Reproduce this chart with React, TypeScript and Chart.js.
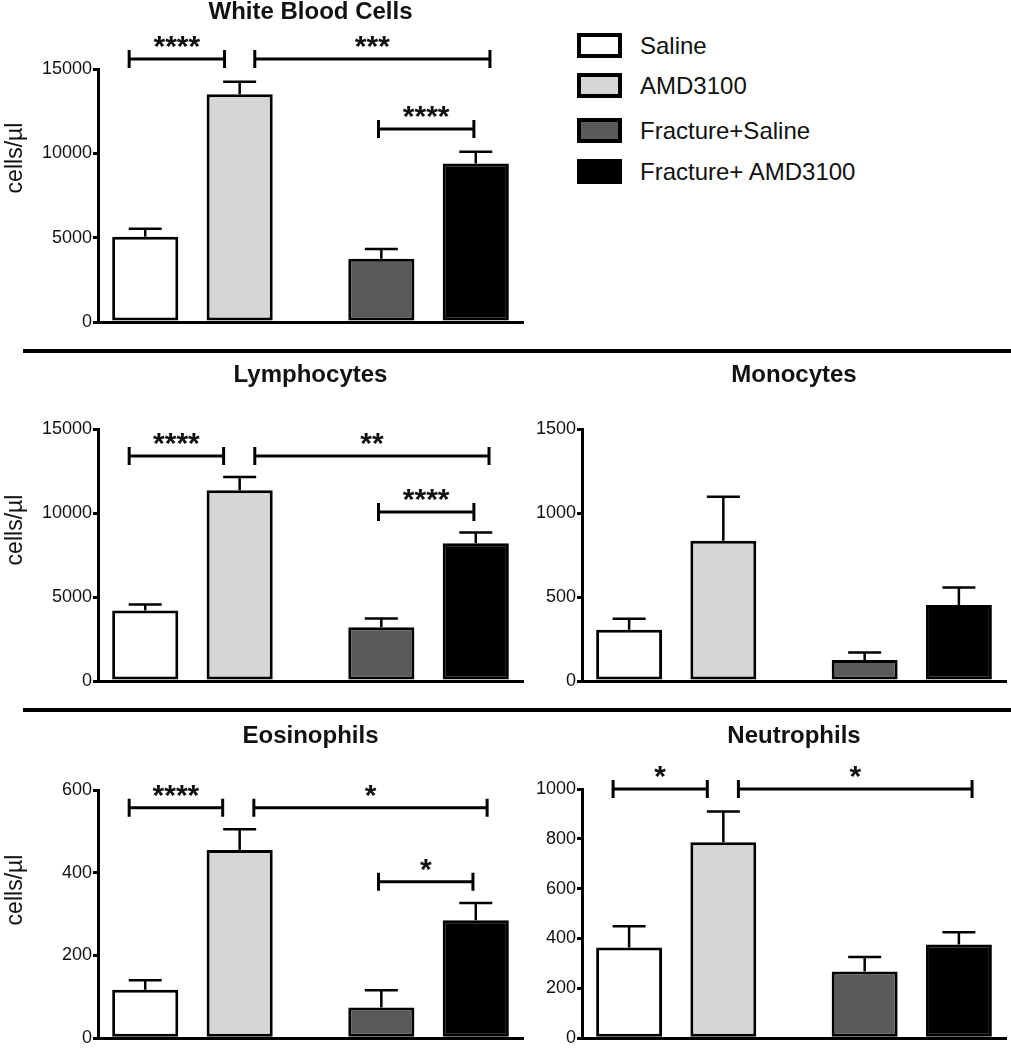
import React, { useEffect, useRef } from 'react';
import { Chart, registerables } from 'chart.js';

Chart.register(...registerables);

// ---------- data ----------
const groups = ['Saline', 'AMD3100', 'Fracture+Saline', 'Fracture+ AMD3100'];
const groupPositions = [0, 1, 2.5, 3.5];
const groupColors = ['#ffffff', '#d6d6d6', '#5a5a5a', '#000000'];

const wbcMeans = [5050, 13500, 3750, 9400];
const wbcErrors = [480, 740, 580, 700];
const wbcTicks = [0, 5000, 10000, 15000];
const wbcBrackets = [
  { from: -0.17, to: 0.84, y: 15590, label: '****' },
  { from: 1.16, to: 3.65, y: 15590, label: '***' },
  { from: 2.47, to: 3.48, y: 11440, label: '****' },
];

const lymMeans = [4200, 11350, 3200, 8200];
const lymErrors = [350, 800, 520, 640];
const lymTicks = [0, 5000, 10000, 15000];
const lymBrackets = [
  { from: -0.17, to: 0.83, y: 13390, label: '****' },
  { from: 1.16, to: 3.64, y: 13390, label: '**' },
  { from: 2.47, to: 3.48, y: 10060, label: '****' },
];

const monMeans = [305, 835, 125, 452];
const monErrors = [66, 262, 45, 104];
const monTicks = [0, 500, 1000, 1500];
const monBrackets: { from: number; to: number; y: number; label: string }[] = [];

const eosMeans = [117, 455, 74, 285];
const eosErrors = [23, 50, 42, 42];
const eosTicks = [0, 200, 400, 600];
const eosBrackets = [
  { from: -0.17, to: 0.82, y: 557, label: '****' },
  { from: 1.15, to: 3.62, y: 557, label: '*' },
  { from: 2.47, to: 3.47, y: 378, label: '*' },
];

const neuMeans = [364, 786, 268, 376];
const neuErrors = [85, 124, 58, 49];
const neuTicks = [0, 200, 400, 600, 800, 1000];
const neuBrackets = [
  { from: -0.17, to: 0.83, y: 1000, label: '*' },
  { from: 1.16, to: 3.64, y: 1000, label: '*' },
];

// ---------- layout ----------
const FONT = "'Liberation Sans', Arial, Helvetica, sans-serif";
const X_MIN = -0.5;
const X_MAX = 4;

type Bracket = { from: number; to: number; y: number; label: string };
type PanelCfg = {
  key: string;
  title: string;
  means: number[];
  errors: number[];
  ticks: number[];
  brackets: Bracket[];
  yLabel: string | null;
  left: number;
  top: number;
  width: number;
  height: number;
  pad: { top: number; bottom: number; right: number };
  axisWidth: number;
  titleOffset: number;
  yLabelOffset: number;
};

const panels: PanelCfg[] = [
  {
    key: 'wbc', title: 'White Blood Cells', means: wbcMeans, errors: wbcErrors, ticks: wbcTicks,
    brackets: wbcBrackets, yLabel: 'cells/\u00b5l',
    left: 0, top: 0, width: 540, height: 345, pad: { top: 69, bottom: 23, right: 17 }, axisWidth: 98,
    titleOffset: -50, yLabelOffset: 89,
  },
  {
    key: 'lym', title: 'Lymphocytes', means: lymMeans, errors: lymErrors, ticks: lymTicks,
    brackets: lymBrackets, yLabel: 'cells/\u00b5l',
    left: 0, top: 356, width: 540, height: 345, pad: { top: 73, bottom: 20, right: 17 }, axisWidth: 98,
    titleOffset: -47, yLabelOffset: 101,
  },
  {
    key: 'mon', title: 'Monocytes', means: monMeans, errors: monErrors, ticks: monTicks,
    brackets: monBrackets, yLabel: null,
    left: 520, top: 356, width: 491, height: 345, pad: { top: 73, bottom: 20, right: 5 }, axisWidth: 62,
    titleOffset: -47, yLabelOffset: 0,
  },
  {
    key: 'eos', title: 'Eosinophils', means: eosMeans, errors: eosErrors, ticks: eosTicks,
    brackets: eosBrackets, yLabel: 'cells/\u00b5l',
    left: 0, top: 716, width: 540, height: 334, pad: { top: 74, bottom: 9, right: 17 }, axisWidth: 98,
    titleOffset: -47, yLabelOffset: 100,
  },
  {
    key: 'neu', title: 'Neutrophils', means: neuMeans, errors: neuErrors, ticks: neuTicks,
    brackets: neuBrackets, yLabel: null,
    left: 520, top: 716, width: 491, height: 334, pad: { top: 73, bottom: 10, right: 5 }, axisWidth: 62,
    titleOffset: -46, yLabelOffset: 0,
  },
];

const legendTops = [33, 73, 118, 159];
const separators = [349, 708];

function makeAnnotations(cfg: PanelCfg) {
  return {
    id: 'annotations_' + cfg.key,
    afterDraw(chart: any) {
      const ctx = chart.ctx as CanvasRenderingContext2D;
      const area = chart.chartArea;
      const xs = chart.scales.x;
      const ys = chart.scales.y;
      const meta = chart.getDatasetMeta(0);
      ctx.save();
      // error bars (upper only)
      ctx.strokeStyle = '#000';
      ctx.lineWidth = 2.5;
      meta.data.forEach((el: any, i: number) => {
        const x = el.x;
        const yTop = ys.getPixelForValue(cfg.means[i]);
        const yCap = ys.getPixelForValue(cfg.means[i] + cfg.errors[i]);
        ctx.beginPath();
        ctx.moveTo(x, yTop);
        ctx.lineTo(x, yCap);
        ctx.moveTo(x - 16.5, yCap);
        ctx.lineTo(x + 16.5, yCap);
        ctx.stroke();
      });
      // significance brackets
      ctx.lineWidth = 3;
      ctx.fillStyle = '#111';
      cfg.brackets.forEach((b) => {
        const x1 = xs.getPixelForValue(b.from);
        const x2 = xs.getPixelForValue(b.to);
        const y = ys.getPixelForValue(b.y);
        ctx.beginPath();
        ctx.moveTo(x1, y);
        ctx.lineTo(x2, y);
        ctx.moveTo(x1, y - 9);
        ctx.lineTo(x1, y + 9);
        ctx.moveTo(x2, y - 9);
        ctx.lineTo(x2, y + 9);
        ctx.stroke();
        ctx.font = `bold 30px ${FONT}`;
        ctx.textAlign = 'center';
        ctx.textBaseline = 'alphabetic';
        ctx.fillText(b.label, (x1 + x2) / 2, y - 3);
      });
      // panel title
      ctx.fillStyle = '#111';
      ctx.font = `bold 24px ${FONT}`;
      ctx.textAlign = 'center';
      ctx.textBaseline = 'alphabetic';
      ctx.fillText(cfg.title, (area.left + area.right) / 2, area.top + cfg.titleOffset);
      // y-axis label
      if (cfg.yLabel) {
        ctx.save();
        ctx.translate(22, area.top + cfg.yLabelOffset);
        ctx.rotate(-Math.PI / 2);
        ctx.font = `23px ${FONT}`;
        ctx.textAlign = 'center';
        ctx.textBaseline = 'alphabetic';
        ctx.fillText(cfg.yLabel, 0, 0);
        ctx.restore();
      }
      ctx.restore();
    },
  };
}

function Panel({ cfg }: { cfg: PanelCfg }) {
  const ref = useRef<HTMLCanvasElement>(null);
  useEffect(() => {
    if (!ref.current) return;
    const chart = new Chart(ref.current, {
      type: 'bar',
      data: {
        datasets: [
          {
            label: cfg.title,
            data: cfg.means.map((v, i) => ({ x: groupPositions[i], y: v })),
            backgroundColor: groupColors,
            borderColor: '#000',
            borderWidth: 3,
            borderSkipped: false,
            categoryPercentage: 1,
            barPercentage: 0.7,
          } as any,
        ],
      },
      options: {
        responsive: false,
        maintainAspectRatio: false,
        animation: false,
        events: [],
        layout: { padding: { left: 0, top: cfg.pad.top, bottom: cfg.pad.bottom, right: cfg.pad.right } },
        plugins: { legend: { display: false }, tooltip: { enabled: false }, title: { display: false } },
        scales: {
          x: {
            type: 'linear',
            min: X_MIN,
            max: X_MAX,
            offset: false,
            afterBuildTicks: (s: any) => { s.ticks = [{ value: X_MIN }, { value: X_MAX }]; },
            grid: { display: false, drawTicks: false },
            ticks: { display: false },
            border: { display: true, color: '#000', width: 3 },
            afterFit: (s: any) => { s.height = 0; },
          },
          y: {
            type: 'linear',
            min: cfg.ticks[0],
            max: cfg.ticks[cfg.ticks.length - 1],
            afterBuildTicks: (s: any) => { s.ticks = cfg.ticks.map((v) => ({ value: v })); },
            grid: { drawOnChartArea: false, drawTicks: true, tickLength: 5, color: '#000', lineWidth: 3 },
            border: { display: true, color: '#000', width: 3 },
            ticks: {
              color: '#111',
              padding: 1,
              font: { family: FONT, size: 18 },
              callback: (v: any) => String(v),
            },
            afterFit: (s: any) => { s.width = cfg.axisWidth; },
          },
        },
      } as any,
      plugins: [makeAnnotations(cfg)],
    });
    return () => chart.destroy();
  }, [cfg]);
  return (
    <canvas
      ref={ref}
      width={cfg.width}
      height={cfg.height}
      style={{ position: 'absolute', left: cfg.left, top: cfg.top, width: cfg.width, height: cfg.height }}
    />
  );
}

export default function App() {
  return (
    <div style={{ position: 'absolute', left: 0, top: 0, width: 1011, height: 1050, background: '#fff', overflow: 'hidden' }}>
      {panels.map((p) => (
        <Panel key={p.key} cfg={p} />
      ))}
      {separators.map((y, i) => (
        <div key={'sep' + i} style={{ position: 'absolute', left: 23, top: y, width: 988, height: 4, background: '#000' }} />
      ))}
      {groups.map((g, i) => (
        <React.Fragment key={g}>
          <div
            style={{
              position: 'absolute', left: 577, top: legendTops[i], width: 45, height: 25,
              boxSizing: 'border-box', border: '4px solid #000', background: groupColors[i],
            }}
          />
          <div
            style={{
              position: 'absolute', left: 640, top: legendTops[i], height: 25, lineHeight: '25px',
              fontFamily: FONT, fontSize: 24, color: '#111', whiteSpace: 'nowrap',
            }}
          >
            {g}
          </div>
        </React.Fragment>
      ))}
    </div>
  );
}
